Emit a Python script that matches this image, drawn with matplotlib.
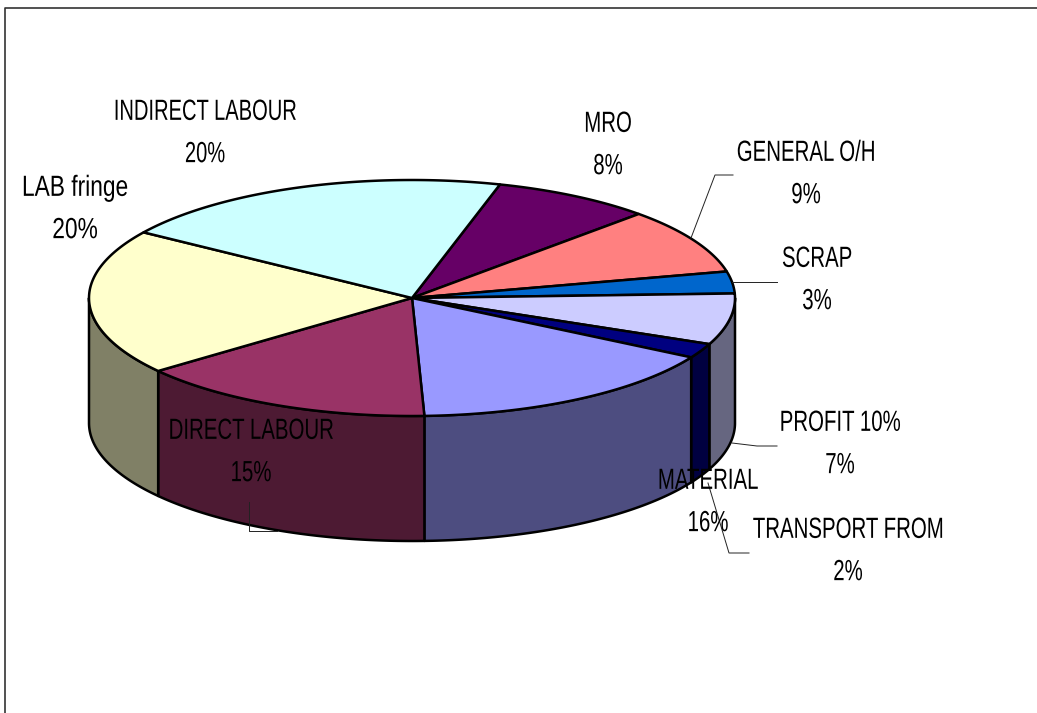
import numpy as np
import matplotlib
matplotlib.use('Agg')
import matplotlib.pyplot as plt
import matplotlib.patheffects as pe
from matplotlib.transforms import Affine2D

categories = ['MRO', 'GENERAL O/H', 'SCRAP', 'PROFIT 10%', 'TRANSPORT FROM',
              'MATERIAL', 'DIRECT LABOUR', 'LAB fringe', 'INDIRECT LABOUR']
values = [8, 9, 3, 7, 2, 16, 15, 20, 20]
colors = ['#660066', '#FF8080', '#0066CC', '#CCCCFF', '#000080',
          '#9999FF', '#993366', '#FFFFCC', '#CCFFFF']
side_colors = ['#330033', '#804040', '#003366', '#666680', '#000040',
               '#4D4D80', '#4D1A33', '#808066', '#668080']

# label centres, same order as categories
label_x = [608, 806, 817, 840, 848, 708, 251, 75, 205]
label_y = [145, 174, 280, 444, 551, 502, 452, 209, 133]
# squash per label, LAB fringe is set wider than the rest
label_k = [0.70, 0.70, 0.70, 0.70, 0.70, 0.70, 0.70, 0.78, 0.69]

# pie geometry in pixels
cx, cy = 412, 298
rx, ry = 323, 118
depth = 125
start = 15.8  # degrees clockwise from the top


# the original font is a squashed Arial, so narrow the glyphs around the label centre
class Squeeze(pe.AbstractPathEffect):
    def __init__(self, x0, k):
        super().__init__()
        self.x0 = x0
        self.k = k

    def draw_path(self, renderer, gc, tpath, affine, rgbFace=None):
        sq = Affine2D().translate(-self.x0, 0).scale(self.k, 1).translate(self.x0, 0)
        renderer.draw_path(gc, tpath, affine + sq, rgbFace)


def rim(a0, a1):
    t = np.radians(np.linspace(a0, a1, 80))
    return cx + rx * np.sin(t), cy - ry * np.cos(t)


fig = plt.figure(figsize=(10.37, 7.13), dpi=100, facecolor='white')
ax = fig.add_axes([0, 0, 1, 1])
ax.axis('off')

edges = start + np.cumsum([0] + values) * 360.0 / sum(values)

# outer wall, only the front half shows
for i in range(len(values)):
    a0 = max(edges[i], 90)
    a1 = min(edges[i + 1], 270)
    if a1 <= a0:
        continue
    x, y = rim(a0, a1)
    ax.fill(np.r_[x, x[::-1]], np.r_[y, y[::-1] + depth], facecolor=side_colors[i],
            edgecolor='black', lw=1.8, joinstyle='round')

# top face
for i in range(len(values)):
    x, y = rim(edges[i], edges[i + 1])
    ax.fill(np.r_[cx, x], np.r_[cy, y], facecolor=colors[i],
            edgecolor='black', lw=1.8, joinstyle='round')

# leader lines
ax.plot([691, 715, 733], [238, 175, 175], color='#222222', lw=0.7)
ax.plot([732, 777], [282, 282], color='#222222', lw=0.7)
ax.plot([732, 757, 777], [443, 446, 446], color='#222222', lw=0.7)
ax.plot([708, 729, 749], [483, 553, 553], color='#222222', lw=0.7)
ax.plot([249, 249, 277], [502, 531, 531], color='#222222', lw=0.7)

# chart frame, only top and left are inside the picture
ax.plot([5, 5, 1037], [713, 8, 8], color='#333333', lw=1.2)

for name, v, lx, ly, k in zip(categories, values, label_x, label_y, label_k):
    ax.text(lx, ly, f'{name}\n{v}%', ha='center', va='center', multialignment='center',
            family='Liberation Sans', fontsize=21, linespacing=1.65, color='black',
            path_effects=[Squeeze(lx, k)])

ax.set_xlim(0, 1037)
ax.set_ylim(713, 0)
fig.savefig('out.png', dpi=100)
